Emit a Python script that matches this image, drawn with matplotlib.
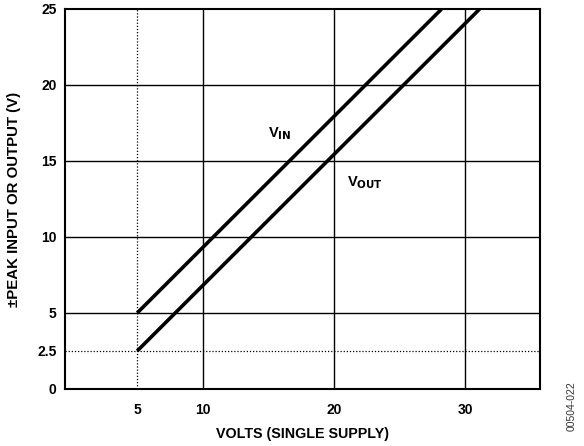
import matplotlib
matplotlib.use("Agg")
import matplotlib.pyplot as plt

plt.rcParams['font.family'] = ['Liberation Sans', 'DejaVu Sans']

# supply volts vs peak swing
vinX = [5, 28.2]
vinY = [5, 25]
voutX = [5, 31.1]
voutY = [2.5, 25]

xTicks = [5, 10, 20, 30]
yTicks = [0, 2.5, 5, 10, 15, 20, 25]
solidX = [10, 20, 30]
solidY = [5, 10, 15, 20]

fig = plt.figure(figsize=(5.84, 4.46), dpi=100)
ax = fig.add_axes([65/584, 57/446, 475/584, 380/446])

for x in solidX:
    ax.axvline(x, color="black", lw=1.0, zorder=1)
for y in solidY:
    ax.axhline(y, color="black", lw=1.0, zorder=1)
ax.axvline(5, color="black", lw=0.9, ls=(0, (1, 1.5)), zorder=1)
ax.axhline(2.5, color="black", lw=0.9, ls=(0, (1, 1.5)), zorder=1)

ax.plot(vinX, vinY, color="black", lw=2.6, solid_capstyle="butt", zorder=3)
ax.plot(voutX, voutY, color="black", lw=2.6, solid_capstyle="butt", zorder=3)

ax.text(15.0, 16.8, r"V$_{\mathbf{IN}}$", fontsize=10.5, fontweight="bold", va="center")
ax.text(21.0, 13.6, r"V$_{\mathbf{OUT}}$", fontsize=10.5, fontweight="bold", va="center")

ax.set_xlim(-0.5, 35.7)
ax.set_ylim(0, 25)
ax.set_xticks(xTicks)
ax.set_yticks(yTicks)
ax.set_xticklabels([str(t) for t in xTicks], fontsize=10, fontweight="bold")
ax.set_yticklabels([str(t) for t in yTicks], fontsize=10, fontweight="bold")
ax.tick_params(length=0)
ax.tick_params(axis="x", pad=10)
ax.tick_params(axis="y", pad=6)
for s in ax.spines.values():
    s.set_linewidth(1.5)

ax.set_xlabel("VOLTS (SINGLE SUPPLY)", fontsize=10.3, fontweight="bold", labelpad=7)
ax.set_ylabel("±PEAK INPUT OR OUTPUT (V)", fontsize=10.8, fontweight="bold", labelpad=12)

fig.text(572/584, 1 - 406/446, "00504-022", rotation=90, fontsize=7.5,
         color="#333333", ha="center", va="center")

fig.savefig("out.png", dpi=100)
